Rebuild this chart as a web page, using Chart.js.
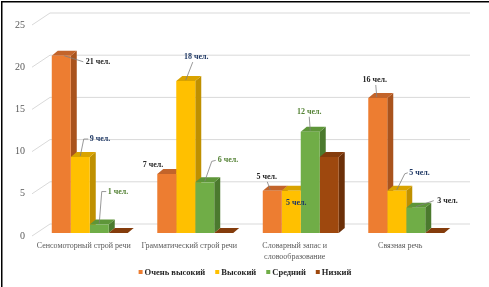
<!DOCTYPE html>
<html>
<head>
<meta charset="utf-8">
<script src="https://cdn.jsdelivr.net/npm/chart.js@4/dist/chart.umd.min.js"></script>
<style>
  html, body { margin: 0; padding: 0; background: #ffffff; }
  canvas { display: block; }
</style>
</head>
<body>
<canvas id="c" width="489" height="287"></canvas>
<script>
// ---- data ----
const categories = [["Сенсомоторный строй речи"], ["Грамматический строй речи"], ["Словарный запас и", "словообразование"], ["Связная речь"]];
const seriesNames = ["Очень высокий", "Высокий", "Средний", "Низкий"];
const veryHigh = [21, 7, 5, 16];
const high = [9, 18, 5, 5];
const medium = [1, 6, 12, 3];
const low = [0, 0, 9, 0];
const yMax = 25;
const yStep = 5;
const unitLabel = " чел.";

// ---- styles ----
const frontColors = ["#ED7D31", "#FFC000", "#70AD47", "#9E480E"];
const sideColors = ["#A9531D", "#BF9000", "#4B7A2E", "#6B2F08"];
const topColors = ["#C3642A", "#D9A300", "#5E9639", "#843C0C"];
const DX = 6, DY = -5;

// label layout (offsets relative to bar top centre), null = no label
const labelLayout = [
  [
    { tx: 24.5, ty: 6, align: "left", color: "#262626", leader: [[3, 0], [22, 6]] },
    { tx: -3.5, ty: -9, align: "right", color: "#262626", leader: null },
    { tx: -5.5, ty: -14, align: "center", color: "#262626", leader: [[-2, -1], [-5, -9]] },
    { tx: -3, ty: -18, align: "center", color: "#262626", leader: [[-1, -1], [-2, -13]] }
  ],
  [
    { tx: 9.5, ty: -18, align: "left", color: "#1F3864", leader: [[0, -1], [3.5, -18], [8, -18]] },
    { tx: 10.5, ty: -24, align: "center", color: "#1F3864", leader: [[0, -1], [7, -19]] },
    { tx: 5, ty: 12, align: "center", color: "#1F3864", leader: null },
    { tx: 12.5, ty: -18, align: "left", color: "#1F3864", leader: [[0, -1], [8, -17], [11, -18]] }
  ],
  [
    { tx: 8.5, ty: -33, align: "left", color: "#548235", leader: [[0, -1], [2.5, -33], [7, -33]] },
    { tx: 13, ty: -22, align: "left", color: "#548235", leader: [[0, -1], [7, -21], [11, -22]] },
    { tx: -1, ty: -20, align: "center", color: "#548235", leader: [[0, -1], [-1, -15]] },
    { tx: 21.5, ty: -7, align: "left", color: "#262626", leader: [[0, -1], [18, -7]] }
  ],
  [null, null, null, null]
];

const seriesValues = [veryHigh, high, medium, low];

const threeD = {
  id: "threeD",
  beforeDatasetsDraw(chart) {
    const ctx = chart.ctx;
    const area = chart.chartArea;
    const ys = chart.scales.y;
    ctx.save();
    ctx.strokeStyle = "#D9D9D9";
    ctx.lineWidth = 1;
    ys.ticks.forEach(t => {
      const y = ys.getPixelForValue(t.value);
      ctx.beginPath();
      ctx.moveTo(area.left - 5, y + 3);
      ctx.lineTo(area.left + 13, y - 9);
      ctx.lineTo(area.right + 11, y - 9);
      ctx.stroke();
    });
    ctx.restore();
    const bars = [];
    chart.data.datasets.forEach((ds, di) => {
      const meta = chart.getDatasetMeta(di);
      meta.data.forEach(el => {
        const p = el.getProps(["x", "y", "base", "width"], true);
        bars.push({ di, left: p.x - p.width / 2, right: p.x + p.width / 2, top: p.y, base: p.base });
      });
    });
    ctx.save();
    bars.forEach(b => {
      if (b.base - b.top < 0.5) return;
      ctx.fillStyle = sideColors[b.di];
      ctx.beginPath();
      ctx.moveTo(b.right, b.top);
      ctx.lineTo(b.right + DX, b.top + DY);
      ctx.lineTo(b.right + DX, b.base + DY);
      ctx.lineTo(b.right, b.base);
      ctx.closePath();
      ctx.fill();
    });
    bars.forEach(b => {
      ctx.fillStyle = topColors[b.di];
      ctx.beginPath();
      ctx.moveTo(b.left, b.top);
      ctx.lineTo(b.left + DX, b.top + DY);
      ctx.lineTo(b.right + DX, b.top + DY);
      ctx.lineTo(b.right, b.top);
      ctx.closePath();
      ctx.fill();
    });
    ctx.restore();
  },
  afterDatasetsDraw(chart) {
    const ctx = chart.ctx;
    ctx.save();
    ctx.font = "bold 8px 'Liberation Serif'";
    ctx.textBaseline = "middle";
    chart.data.datasets.forEach((ds, di) => {
      const meta = chart.getDatasetMeta(di);
      meta.data.forEach((el, i) => {
        const lay = labelLayout[di] && labelLayout[di][i];
        if (!lay) return;
        const p = el.getProps(["x", "y"], true);
        if (lay.leader) {
          ctx.strokeStyle = "#7F7F7F";
          ctx.lineWidth = 0.8;
          ctx.beginPath();
          lay.leader.forEach((pt, k) => {
            const X = p.x + pt[0], Y = p.y + pt[1];
            if (k === 0) ctx.moveTo(X, Y); else ctx.lineTo(X, Y);
          });
          ctx.stroke();
        }
        ctx.fillStyle = lay.color;
        ctx.textAlign = lay.align;
        ctx.fillText(ds.data[i] + unitLabel, p.x + lay.tx, p.y + lay.ty);
      });
    });
    ctx.restore();
  },
  afterDraw(chart) {
    const ctx = chart.ctx;
    ctx.save();
    ctx.font = "bold 8.5px 'Liberation Serif'";
    ctx.textBaseline = "middle";
    ctx.textAlign = "left";
    const box = 4, gapBox = 2, gapItem = 10;
    const items = chart.data.datasets.map((ds, i) => ({ label: ds.label, color: frontColors[i], w: ctx.measureText(ds.label).width }));
    let total = 0;
    items.forEach((it, k) => { total += box + gapBox + it.w + (k < items.length - 1 ? gapItem : 0); });
    let x = 245 - total / 2;
    const ly = 272;
    items.forEach(it => {
      ctx.fillStyle = it.color;
      ctx.fillRect(x, ly - box / 2, box, box);
      x += box + gapBox;
      ctx.fillStyle = "#262626";
      ctx.fillText(it.label, x, ly + 0.5);
      x += it.w + gapItem;
    });
    ctx.fillStyle = "#000000";
    ctx.fillRect(1, 1, 488, 1.5);
    ctx.fillRect(1, 1, 1.5, 286);
    ctx.restore();
  }
};

new Chart(document.getElementById("c"), {
  type: "bar",
  data: {
    labels: categories,
    datasets: seriesNames.map((name, i) => ({
      label: name,
      data: seriesValues[i],
      backgroundColor: frontColors[i],
      borderWidth: 0,
      barPercentage: 1,
      categoryPercentage: 0.72
    }))
  },
  options: {
    responsive: false,
    animation: false,
    devicePixelRatio: 1,
    layout: { padding: { left: 0, right: 30, top: 22, bottom: 0 } },
    plugins: { legend: { display: false }, tooltip: { enabled: false } },
    scales: {
      x: {
        grid: { display: false, drawTicks: false },
        border: { display: false },
        ticks: {
          font: { family: "'Liberation Serif'", size: 8, lineHeight: 1.4 },
          color: "#595959",
          padding: 7,
          labelOffset: -6,
          maxRotation: 0,
          autoSkip: false
        },
        afterFit(scale) { scale.height = 54; }
      },
      y: {
        min: 0,
        max: yMax,
        grid: { display: false, drawTicks: false },
        border: { display: false },
        ticks: {
          stepSize: yStep,
          font: { family: "'Liberation Serif'", size: 10 },
          color: "#595959",
          padding: 12,
          labelOffset: 3
        },
        afterFit(scale) { scale.width = 37; }
      }
    }
  },
  plugins: [threeD]
});
</script>
</body>
</html>
